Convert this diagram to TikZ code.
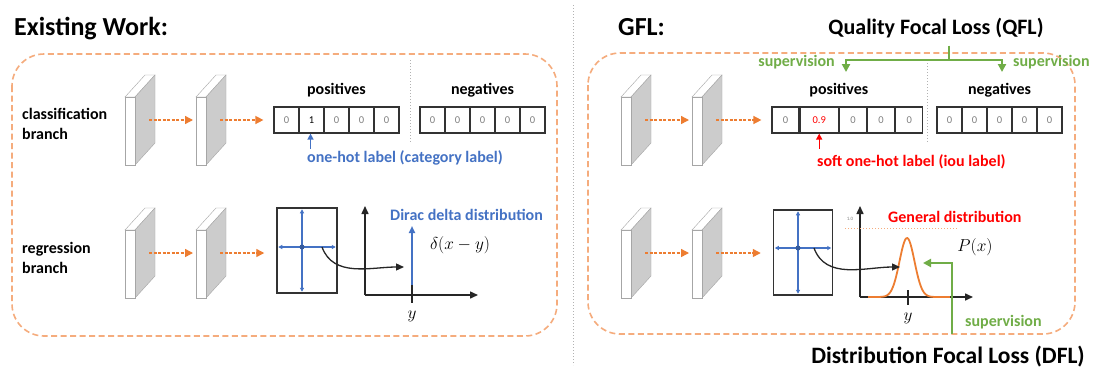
\documentclass[tikz,border=0pt]{standalone}
\usepackage{fontspec}
\setmainfont{Carlito}
\usetikzlibrary{arrows.meta,positioning}

\definecolor{flowor}{RGB}{237,125,49}
\definecolor{frameor}{RGB}{245,172,125}
\definecolor{labblue}{RGB}{68,114,196}
\definecolor{labred}{RGB}{255,0,0}
\definecolor{supgreen}{RGB}{112,173,71}
\definecolor{slabgray}{RGB}{204,204,204}

\tikzset{
  heading/.style={font=\bfseries\fontsize{26}{30}\selectfont},
  lossname/.style={font=\bfseries\fontsize{22}{26}\selectfont},
  lbl/.style={font=\bfseries\fontsize{16}{20}\selectfont, align=left},
  cell/.style={draw=black!80, line width=1.2pt, minimum width=25pt, minimum height=26pt,
               font=\fontsize{10.5}{12}\selectfont, text=black!50},
  frame/.style={frameor, line width=1.6pt, dash pattern=on 6pt off 3.5pt, rounded corners=32pt},
  flow/.style={flowor, line width=1.4pt, dash pattern=on 3pt off 1.5pt,
               -{Triangle[length=8pt,width=8pt]}},
  sep/.style={black!30, line width=1pt, dotted},
  axis/.style={black!85, line width=1.5pt, -{Triangle[length=8pt,width=7pt]}},
  cross/.style={labblue, line width=1.2pt, shorten <=2pt, shorten >=2pt,
                {Triangle[length=4pt,width=4pt]}-{Triangle[length=4pt,width=4pt]}},
  maparrow/.style={black!85, line width=1.3pt, -{Triangle[length=8pt,width=7pt]}},
  sup/.style={supgreen, line width=2pt},
  suparrow/.style={sup, -{Triangle[length=8pt,width=8pt]}},
}

% feature map slab: name, left x, top y
\newcommand{\featmap}[3]{
  \filldraw[fill=white, draw=black!35] (#2,#3+22) -- (#2+20,#3) -- (#2+30,#3) -- (#2+10,#3+22) -- cycle;
  \filldraw[fill=slabgray, draw=black!35] (#2+10,#3+22) -- (#2+30,#3) -- (#2+30,#3+68) -- (#2+10,#3+90) -- cycle;
  \filldraw[fill=white, draw=black!35] (#2,#3+22) rectangle (#2+10,#3+90);
  \coordinate (#1-in) at (#2-3,#3+45);
  \coordinate (#1-out) at (#2+24,#3+45);
}

\begin{document}
\begin{tikzpicture}[x=1pt,y=-1pt,every node/.style={inner sep=0pt}]
\path[fill=white] (0,0) rectangle (1094,370);
\useasboundingbox (0,0) rectangle (1094,370);

%%% existing work
\node[heading, anchor=base west] (exist) at (14,35) {Existing Work:};
\draw[frame] (12,54) rectangle (557,336);
\node[lbl, anchor=west] (clsname) at (22,124) {classification\\branch};
\node[lbl, anchor=west] (regname) at (22,258) {regression\\branch};

\featmap{lc1}{125}{75}
\featmap{lc2}{196}{75}
\featmap{lr1}{125}{208}
\featmap{lr2}{196}{208}

\foreach \v/\c [count=\i] in {0/black!50,1/black,0/black!50,0/black!50,0/black!50}
  \node[cell, text=\c] (lpos\i) at ({261.5+25*\i},120) {\v};
\foreach \i in {1,...,5}
  \node[cell] (lneg\i) at ({407.5+25*\i},120) {0};
\node[lbl, above=9pt of lpos3] (lposname) {positives};
\node[lbl, above=9pt of lneg3] (lnegname) {negatives};
\draw[sep] (410,60) -- (410,142);

\draw[flow] (lc1-out) -- (lc2-in);
\draw[flow] (lc2-out) -- ([xshift=-10pt]lpos1.west);
\draw[labblue, line width=1.4pt, {Triangle[length=6pt,width=6pt]}-] (lpos2.south) ++(-1,0) -- ++(0,15) coordinate (lhot);
\node[lbl, text=labblue, anchor=west] (onehot) at (307,158) {one-hot label (category label)};

\node[draw=black!80, line width=1.5pt, minimum width=60pt, minimum height=85pt] (lbox) at (307,250.5) {};
\coordinate (lctr) at (302,247);
\draw[cross] (lctr |- lbox.north) -- (lctr |- lbox.south);
\draw[cross] (lbox.west |- lctr) -- (lbox.east |- lctr);
\fill[labblue!80!black] (lctr) circle (2.5);
\draw[flow] (lr1-out) -- (lr2-in);
\draw[flow] (lr2-out) -- ([xshift=-12pt]lbox.west |- lr2-out);

\coordinate (lorig) at (365,295);
\draw[axis] (lorig) -- (365,206);
\draw[axis] (lorig) -- (478,295);
\coordinate (ldirac) at (412,295);
\draw[labblue, line width=2pt, -{Triangle[length=7pt,width=6pt]}] (ldirac) -- (412,226);
\draw[black!85, line width=1.5pt] (ldirac) ++(0,-10) -- ++(0,18);
\node[lbl, text=labblue, anchor=west] (dirac) at (390,215) {Dirac delta distribution};
\node[font=\fontsize{18}{22}\selectfont] (delta) at (460,245) {$\delta(x-y)$};
\node[font=\fontsize{18}{22}\selectfont] (ly) at (412,316) {$y$};
\draw[maparrow] ([xshift=20pt]lctr) to[out=-70,in=180] (404,267);

\draw[sep] (573,5) -- (573,365);

%%% gfl
\node[heading, anchor=base west] (gfl) at (618,35) {GFL:};
\node[lossname, anchor=base] (qfl) at (936,34) {Quality Focal Loss (QFL)};
\node[lossname, font=\bfseries\fontsize{23.5}{28}\selectfont, anchor=base] (dfl) at (948,363) {Distribution Focal Loss (DFL)};
\draw[frame] (588,53) rectangle (1075,334);

\featmap{rc1}{621}{75}
\featmap{rc2}{692}{75}
\featmap{rr1}{621}{208}
\featmap{rr2}{692}{208}

\node[cell, minimum width=27pt] (rpos1) at (785.5,120) {0};
\node[cell, minimum width=38pt, text=labred, right=0pt of rpos1] (rpos2) {0.9};
\node[cell, minimum width=27pt, right=0pt of rpos2] (rpos3) {0};
\node[cell, minimum width=27pt, right=0pt of rpos3] (rpos4) {0};
\node[cell, minimum width=27pt, right=0pt of rpos4] (rpos5) {0};
\foreach \i in {1,...,5}
  \node[cell] (rneg\i) at ({924.5+25*\i},120) {0};
\node[lbl, above=9pt of rpos3.north west] (rposname) {positives};
\node[lbl, above=9pt of rneg3] (rnegname) {negatives};
\draw[sep] (927,60) -- (927,142);

\draw[flow] (rc1-out) -- (rc2-in);
\draw[flow] (rc2-out) -- ([xshift=-10pt]rpos1.west);
\draw[labred, line width=1.4pt, {Triangle[length=6pt,width=6pt]}-] (rpos2.south) -- ++(0,15) coordinate (rhot);
\node[lbl, text=labred, anchor=west] (softhot) at (817,162) {soft one-hot label (iou label)};

\coordinate (supmid) at (949,60);
\draw[sup] (supmid |- qfl.south) ++(0,8) -- (supmid);
\draw[suparrow] (supmid) -| (846,72);
\draw[suparrow] (supmid) -| (1002,72);
\node[lbl, text=supgreen, anchor=east] (supl) at (835,62) {supervision};
\node[lbl, text=supgreen, anchor=west] (supr) at (1013,62) {supervision};

\node[draw=black!80, line width=1.5pt, minimum width=59pt, minimum height=85pt] (rbox) at (803,252.5) {};
\coordinate (rctr) at (798,248);
\draw[cross] (rctr |- rbox.north) -- (rctr |- rbox.south);
\draw[cross] (rbox.west |- rctr) -- (rbox.east |- rctr);
\fill[labblue!80!black] (rctr) circle (2.5);
\draw[flow] (rr1-out) -- (rr2-in);
\draw[flow] (rr2-out) -- ([xshift=-12pt]rbox.west |- rr2-out);

\coordinate (rorig) at (860,297);
\draw[axis] (rorig) -- (860,206);
\draw[axis] (rorig) -- (973,297);
\draw[frameor, line width=1pt, dotted] (845,228) -- (958,228);
\node[font=\fontsize{5}{6}\selectfont, text=black!50] (one) at (850,219) {1.0};
\node[lbl, text=labred, anchor=west] (general) at (888,217) {General distribution};
\node[font=\fontsize{18}{22}\selectfont] (px) at (975,247) {$P(x)$};
\draw[flowor, line width=1.8pt] plot[domain=868:950, samples=80] (\x,{297-59*exp(-((\x-907)^2)/112)});
\draw[black!85, line width=1.5pt] (908,290) -- (908,305);
\node[font=\fontsize{18}{22}\selectfont] (ry) at (908,318) {$y$};
\draw[maparrow] ([xshift=16pt]rctr) to[out=-70,in=180] (900,267);

\coordinate (dfltap) at (952,334);
\draw[suparrow] (dfltap) |- (923,263);
\node[lbl, text=supgreen, anchor=west] (supd) at (965,322) {supervision};
\end{tikzpicture}
\end{document}
